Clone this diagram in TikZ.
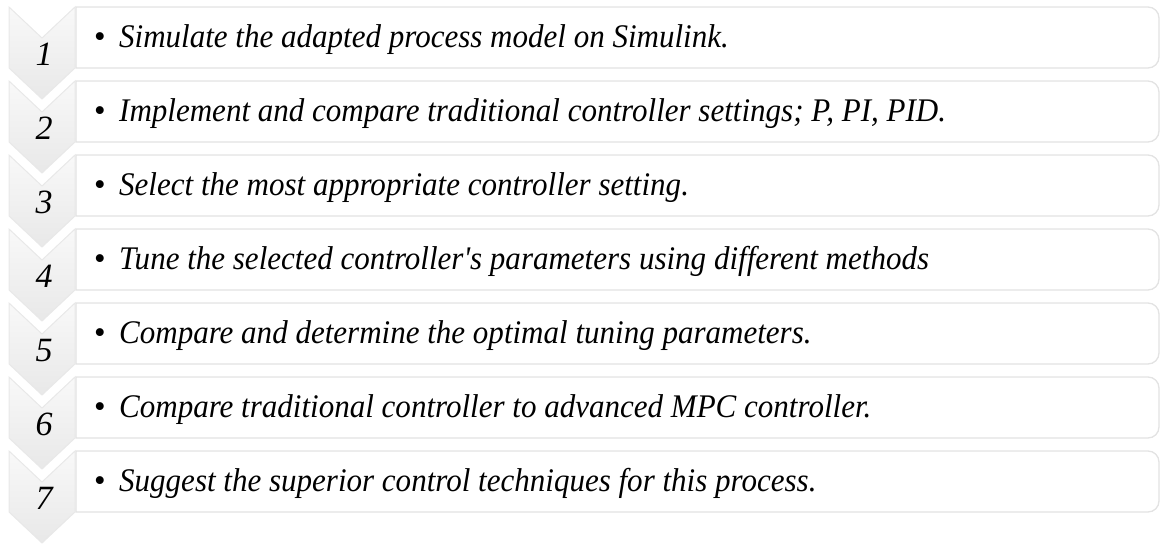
\documentclass[tikz,border=0pt]{standalone}
\usepackage{fontspec}
\setmainfont{Liberation Serif}
\newfontfamily\itemfamily{Liberation Serif}[FakeStretch=0.94]
\tikzset{
  chev/.style={draw=gray!18, line width=1pt, top color=gray!5, bottom color=gray!18},
  stepbox/.style={draw=gray!22, line width=1.3pt, fill=white},
  numtxt/.style={font=\fontsize{34}{40}\selectfont\itshape, anchor=base, inner sep=0pt},
  itemtxt/.style={font=\itemfamily\fontsize{33}{40}\selectfont\itshape, anchor=base west, inner sep=0pt},
  bul/.style={font=\fontsize{33}{40}\selectfont, anchor=base, inner sep=0pt}
}
% one step of the list: #1 = row index (0..6), #2 = number, #3 = text
\newcommand{\procstep}[3]{%
  \pgfmathsetmacro{\yt}{7+74*#1}
  \path[stepbox] (76,\yt) -- (1100,\yt) [rounded corners=11pt] -- (1159,\yt)
      -- (1159,\yt+61) -- (1100,\yt+61) [sharp corners] -- (76,\yt+61) -- cycle;
  \path[chev] (9,\yt) -- (42,\yt+31) -- (75,\yt) -- (75,\yt+61)
      -- (42,\yt+92) -- (9,\yt+61) -- cycle;
  \node[numtxt] (num#2) at (44,\yt+58) {#2};
  \node[bul] (bul#2) at (100,\yt+40) {\textbullet};
  \node[itemtxt] (item#2) at (119,\yt+40) {#3};
}
\begin{document}
\begin{tikzpicture}[x=1pt,y=-1pt]
  \useasboundingbox (0,0) rectangle (1160,544);
  \procstep{0}{1}{Simulate the adapted process model on Simulink.}
  \procstep{1}{2}{Implement and compare traditional controller settings; P, PI, PID.}
  \procstep{2}{3}{Select the most appropriate controller setting.}
  \procstep{3}{4}{Tune the selected controller's parameters using different methods}
  \procstep{4}{5}{Compare and determine the optimal tuning parameters.}
  \procstep{5}{6}{Compare traditional controller to advanced MPC controller.}
  \procstep{6}{7}{Suggest the superior control techniques for this process.}
\end{tikzpicture}
\end{document}
